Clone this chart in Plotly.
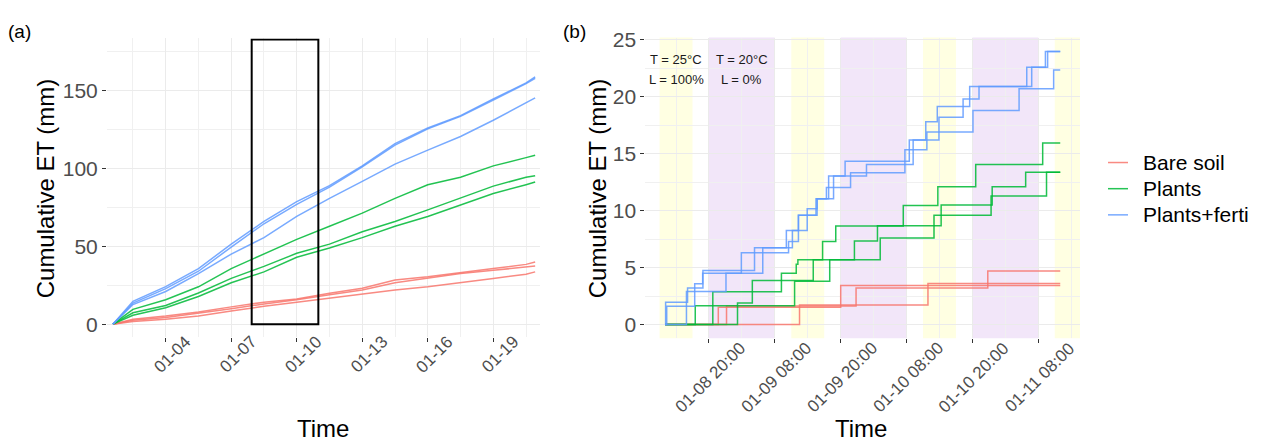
import pandas as pd
import plotly.graph_objects as go

W, H = 1263, 445

COLORS = {"Bare soil": "#F8766D", "Plants": "#00BA38", "Plants+ferti": "#619CFF"}
FONT = "Liberation Sans, Arial, sans-serif"

# ---------------- panel (a): whole run, cumulative ET (mm) ----------------
a_times = ["2021-01-01 14:00", "2021-01-02 12:00", "2021-01-04 00:00", "2021-01-05 12:00",
           "2021-01-07 00:00", "2021-01-08 12:00", "2021-01-10 00:00", "2021-01-11 12:00",
           "2021-01-13 00:00", "2021-01-14 12:00", "2021-01-16 00:00", "2021-01-17 12:00",
           "2021-01-19 00:00", "2021-01-20 12:00", "2021-01-20 22:00"]

a_bare_1 = [0, 3.1, 5.2, 7.8, 11.1, 14.1, 16.2, 19.9, 23.1, 28.3, 30.4, 32.9, 35.7, 38.4, 39.9]
a_bare_2 = [0, 2.5, 4.2, 6.9, 9.9, 13.0, 15.7, 18.9, 22.0, 26.6, 29.4, 32.5, 34.6, 36.7, 37.3]
a_bare_3 = [0, 1.7, 3.1, 5.2, 8.4, 11.5, 14.1, 16.8, 19.5, 22.0, 24.1, 26.6, 29.4, 32.1, 33.6]

a_plants_1 = [0, 9.5, 15.7, 24.0, 35.7, 45.1, 54.5, 62.9, 71.3, 80.8, 89.6, 94.4, 101.7, 107.0, 108.5]
a_plants_2 = [0, 7.3, 12.0, 20.0, 29.4, 37.1, 45.5, 51.4, 59.4, 66.0, 73.4, 81.2, 88.7, 94.4, 95.4]
a_plants_3 = [0, 5.7, 10.5, 17.8, 26.6, 33.6, 43.0, 48.9, 55.6, 62.9, 69.2, 76.6, 83.9, 89.6, 91.3]

a_ferti_1 = [0, 14.7, 24.1, 35.7, 51.4, 66.0, 78.7, 89.0, 101.7, 116.0, 126.0, 134.0, 144.7, 155.0, 158.8]
a_ferti_2 = [0, 13.5, 22.8, 34.0, 49.5, 64.5, 77.0, 88.0, 101.0, 115.0, 125.5, 133.5, 144.0, 154.5, 158.0]
a_ferti_3 = [0, 12.6, 21.0, 32.5, 45.0, 55.6, 69.2, 80.8, 91.7, 102.8, 111.8, 120.6, 131.0, 142.0, 145.4]

a_tick_dates = ["2021-01-04", "2021-01-07", "2021-01-10", "2021-01-13", "2021-01-16", "2021-01-19"]
a_tick_text = ["01-04", "01-07", "01-10", "01-13", "01-16", "01-19"]

# zoom window shown in panel (b)
a_window = ["2021-01-07 22:30", "2021-01-10 23:45"]

# ---------------- panel (b): 3-day zoom, step series ----------------
b_start = "2021-01-08 12:00"   # hours below are counted from here

b_bare_1_h = [0, 9.7, 32.0, 72]
b_bare_1_v = [0, 1.52, 3.42, 3.42]
b_bare_2_h = [0, 11.2, 34.8, 58.8, 72]
b_bare_2_v = [0, 1.63, 3.2, 4.7, 4.7]
b_bare_3_h = [0, 24.5, 47.9, 72]
b_bare_3_v = [0, 1.72, 3.6, 3.6]

b_plants_1_h = [0, 8.7, 21.2, 23.9, 24.2, 28.7, 31.1, 43.4, 49.7, 56.6, 68.8, 72]
b_plants_1_v = [0, 2.87, 4.5, 5.3, 5.68, 7.3, 8.66, 10.46, 12.1, 14.05, 15.95, 15.95]
b_plants_2_h = [0, 5.5, 23.6, 30.0, 39.2, 49.0, 59.4, 69.5, 72]
b_plants_2_v = [0, 1.65, 3.8, 5.68, 7.6, 9.6, 11.3, 13.37, 13.37]
b_plants_3_h = [0, 13.2, 15.9, 27.0, 34.5, 38.7, 50.3, 59.6, 65.7, 72]
b_plants_3_v = [0, 1.9, 3.87, 5.68, 7.33, 8.68, 10.5, 12.1, 13.37, 13.37]

b_ferti_1_h = [0, 0.1, 4.1, 6.9, 16.3, 22.1, 24.3, 27.5, 30.7, 32.8, 44.5, 47.5, 49.6, 55.5, 65.9, 69.3, 72]
b_ferti_1_v = [0, 1.95, 3.2, 4.75, 6.74, 8.26, 9.6, 11.04, 13.05, 14.35, 16.2, 17.8, 19.15, 20.9, 22.6, 23.98, 23.98]
b_ferti_2_h = [0, 0.3, 5.4, 6.85, 17.8, 23.2, 25.9, 27.7, 29.8, 36.7, 45.2, 49.9, 54.3, 57.2, 66.8, 69.7, 72]
b_ferti_2_v = [0, 1.6, 3.58, 4.5, 6.74, 8.26, 10.18, 11.04, 13.05, 14.06, 16.2, 18.2, 19.8, 20.9, 22.6, 23.98, 23.98]
b_ferti_3_h = [0, 3.9, 11.1, 13.9, 22.5, 24.3, 27.7, 29.4, 33.8, 43.7, 47.7, 56.1, 64.5, 70.8, 72]
b_ferti_3_v = [0, 2.9, 4.5, 6.3, 7.3, 9.6, 11.04, 12.04, 13.33, 15.35, 16.9, 18.8, 20.7, 22.35, 22.35]

b_tick_dates = ["2021-01-08 20:00", "2021-01-09 08:00", "2021-01-09 20:00",
                "2021-01-10 08:00", "2021-01-10 20:00", "2021-01-11 08:00"]
b_tick_text = ["01-08 20:00", "01-09 08:00", "01-09 20:00",
               "01-10 08:00", "01-10 20:00", "01-11 08:00"]

# light periods (yellow) and dark periods (purple)
b_light_start = ["2021-01-08 11:00", "2021-01-09 11:00", "2021-01-10 11:00", "2021-01-11 11:00"]
b_light_hours = 6
b_dark_start = ["2021-01-08 20:00", "2021-01-09 20:00", "2021-01-10 20:00"]
b_dark_hours = 12

cond_light = ["T = 25°C", "L = 100%"]
cond_dark = ["T = 20°C", "L = 0%"]
cond_x = ["2021-01-08 14:00", "2021-01-09 02:00"]
cond_y = [23.25, 21.5]

legend_names = ["Bare soil", "Plants", "Plants+ferti"]

# ---------------- build ----------------
fig = go.Figure()

t0 = pd.Timestamp(b_start)


def hours_to_time(hours):
    return [t0 + pd.Timedelta(hours=h) for h in hours]


panel_a = [("Bare soil", [a_bare_1, a_bare_2, a_bare_3]),
           ("Plants", [a_plants_1, a_plants_2, a_plants_3]),
           ("Plants+ferti", [a_ferti_1, a_ferti_2, a_ferti_3])]
for name, reps in panel_a:
    for vals in reps:
        fig.add_trace(go.Scatter(
            x=a_times, y=vals, mode="lines", xaxis="x", yaxis="y",
            line=dict(color=COLORS[name], width=1.5), opacity=0.85,
            name=name, showlegend=False, hoverinfo="skip"))

panel_b = [("Bare soil", [(b_bare_1_h, b_bare_1_v), (b_bare_2_h, b_bare_2_v), (b_bare_3_h, b_bare_3_v)]),
           ("Plants", [(b_plants_1_h, b_plants_1_v), (b_plants_2_h, b_plants_2_v), (b_plants_3_h, b_plants_3_v)]),
           ("Plants+ferti", [(b_ferti_1_h, b_ferti_1_v), (b_ferti_2_h, b_ferti_2_v), (b_ferti_3_h, b_ferti_3_v)])]
for name, reps in panel_b:
    for hrs, vals in reps:
        fig.add_trace(go.Scatter(
            x=hours_to_time(hrs), y=vals, mode="lines", xaxis="x2", yaxis="y2",
            line=dict(color=COLORS[name], width=1.5, shape="hv"), opacity=0.85,
            name=name, showlegend=False, hoverinfo="skip"))

shapes = []
for s in b_light_start:
    ts = pd.Timestamp(s)
    shapes.append(dict(type="rect", xref="x2", yref="y2 domain", x0=ts,
                       x1=ts + pd.Timedelta(hours=b_light_hours), y0=0, y1=1,
                       fillcolor="#FFFFE2", line=dict(width=0), layer="below"))
for s in b_dark_start:
    ts = pd.Timestamp(s)
    shapes.append(dict(type="rect", xref="x2", yref="y2 domain", x0=ts,
                       x1=ts + pd.Timedelta(hours=b_dark_hours), y0=0, y1=1,
                       fillcolor="#F2E6F9", line=dict(width=0), layer="below"))
shapes.append(dict(type="rect", xref="x", yref="y", x0=a_window[0], x1=a_window[1],
                   y0=0, y1=182.9, line=dict(color="black", width=2), layer="above"))

ann = []


def label(text, x, y, size, color="black", angle=0, xref="paper", yref="paper",
          xshift=0, xanchor="center"):
    ann.append(dict(text=text, x=x, y=y, xref=xref, yref=yref, xshift=xshift,
                    textangle=angle, showarrow=False, xanchor=xanchor, yanchor="middle",
                    font=dict(size=size, color=color)))


# panel tags
label("(a)", 20 / W, 1 - 23 / H, 19)
label("(b)", 574 / W, 1 - 23 / H, 19)
# axis titles
for xc in (45, 597):
    label("Cumulative ET (mm)", xc / W, 1 - 183 / H, 24, angle=-90)
for xc in (323, 861):
    label("Time", xc / W, 1 - 428 / H, 24)
# rotated date labels
for d, t in zip(a_tick_dates, a_tick_text):
    label(t, d, 1 - 353 / H, 17, color="#4D4D4D", angle=-45, xref="x", xshift=7)
for d, t in zip(b_tick_dates, b_tick_text):
    label(t, d, 1 - 376 / H, 17, color="#4D4D4D", angle=-45, xref="x2", xshift=1.5)
# condition labels
for xc, lines in zip(cond_x, (cond_light, cond_dark)):
    for yc, txt in zip(cond_y, lines):
        label(txt, xc, yc, 13, color="#1A1A1A", xref="x2", yref="y2")

# legend: key line + text per treatment
for k, name in enumerate(legend_names):
    yc = 1 - (156.7 + 26.7 * k) / H
    shapes.append(dict(type="line", xref="paper", yref="paper", x0=1108 / W, x1=1128 / W,
                       y0=yc, y1=yc, line=dict(color=COLORS[name], width=1.5),
                       opacity=0.85, layer="above"))
    label(name, 1141 / W, yc, 21, xanchor="left")

grid = dict(showline=False, zeroline=False, showgrid=True, gridcolor="#EBEBEB", gridwidth=1.1,
            ticks="outside", ticklen=4, tickwidth=1, tickcolor="#333333")
DAY = 86400000
HOUR = 3600000

fig.update_layout(
    width=W, height=H, margin=dict(l=0, r=0, t=0, b=0),
    paper_bgcolor="white", plot_bgcolor="white",
    font=dict(family=FONT, color="black"),
    showlegend=False,
    xaxis=dict(domain=[107 / W, 540 / W], anchor="y", type="date",
               range=["2021-01-01 07:30", "2021-01-21 03:20"],
               tick0="2021-01-01", dtick=3 * DAY, showticklabels=False,
               minor=dict(dtick=1.5 * DAY, tick0="2021-01-01", showgrid=True,
                          gridcolor="#F0F0F0", gridwidth=0.8, ticks=""), **grid),
    yaxis=dict(domain=[1 - 335 / H, 1 - 30 / H], anchor="x", range=[-8.4, 183.6],
               tick0=0, dtick=50, tickfont=dict(size=21, color="#4D4D4D"),
               minor=dict(dtick=25, tick0=0, showgrid=True, gridcolor="#F0F0F0",
                          gridwidth=0.8, ticks=""), **grid),
    xaxis2=dict(domain=[645.3 / W, 1080 / W], anchor="y2", type="date",
                range=["2021-01-08 08:24", "2021-01-11 15:36"],
                tick0="2021-01-08 20:00", dtick=12 * HOUR, showticklabels=False,
                minor=dict(dtick=6 * HOUR, tick0="2021-01-08 20:00", showgrid=True,
                           gridcolor="#F0F0F0", gridwidth=0.8, ticks=""), **grid),
    yaxis2=dict(domain=[1 - 336 / H, 1 - 29.2 / H], anchor="x2", range=[-1.2, 25.2],
                tick0=0, dtick=5, tickfont=dict(size=21, color="#4D4D4D"),
                minor=dict(dtick=2.5, tick0=0, showgrid=True, gridcolor="#F0F0F0",
                           gridwidth=0.8, ticks=""), **grid),
    shapes=shapes, annotations=ann,
)

fig.write_html("out.html")
